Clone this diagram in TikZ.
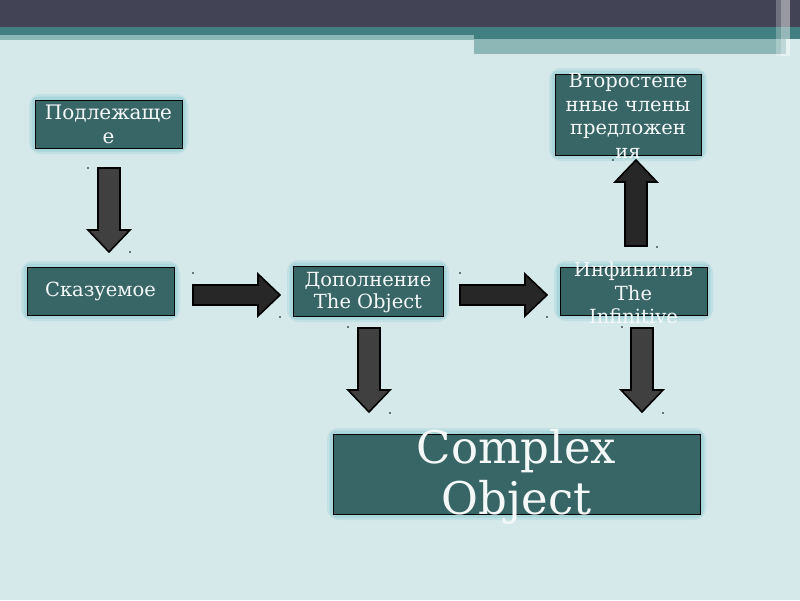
\documentclass[tikz,border=0pt]{standalone}
\usepackage{fontspec}
\setmainfont{DejaVu Serif}
\definecolor{bg}{HTML}{D5E8EA}
\definecolor{hdark}{HTML}{424455}
\definecolor{hteal}{HTML}{427F80}
\definecolor{hlight}{HTML}{8DB7B7}
\definecolor{boxfill}{HTML}{386566}
\definecolor{glowc}{HTML}{94CFD4}
\definecolor{arrfill}{HTML}{404040}
\definecolor{arrdark}{HTML}{272727}
\definecolor{txt}{HTML}{F4F8F8}
\tikzset{
  glowbox/.style={draw=glowc, line width=12pt, opacity=0.3, rounded corners=6pt},
  glowbox2/.style={draw=glowc, line width=7pt, opacity=0.55, rounded corners=3pt},
  boxrect/.style={fill=boxfill, draw=black, line width=0.9pt},
  boxtext/.style={text=txt, align=center, inner sep=0pt, font=\fontsize{19.5}{23.5}\selectfont},
  blockarr/.style={draw=black, line width=1.6pt, line join=miter},
  tinydot/.style={fill=black, circle, inner sep=0pt, minimum size=1.8pt}
}
\newcommand\glowrect[2]{%
  \draw[glowbox] #1 rectangle #2;
  \draw[glowbox2] #1 rectangle #2;
  \draw[boxrect] #1 rectangle #2;}
\begin{document}
\begin{tikzpicture}[x=1pt,y=-1pt]
\useasboundingbox (0,0) rectangle (800,600);
\fill[bg] (0,0) rectangle (800,600);
% header
\fill[hdark] (0,0) rectangle (800,27);
\fill[hteal] (0,27) rectangle (800,39);
\fill[hlight] (0,35) rectangle (474,40);
\fill[hlight] (474,39) rectangle (786,54);
\fill[white, opacity=0.25] (776,0) rectangle (781,56);
\fill[white, opacity=0.45] (781,0) rectangle (790,56);
% boxes
\glowrect{(35,100)}{(182,148)}
\node[boxtext, font=\fontsize{20}{24}\selectfont] (podl) at (108.5,124) {Подлежаще\\е};
\glowrect{(27,267)}{(174,315)}
\node[boxtext] (skaz) at (100.5,291) {Сказуемое};
\glowrect{(293,266)}{(443,316)}
\node[boxtext, font=\fontsize{19.5}{22}\selectfont] (dop) at (368,293) {Дополнение\\The Object};
\glowrect{(560,267)}{(707,315)}
\node[boxtext] (inf) at (633.5,293) {Инфинитив\\The\\Infinitive};
\glowrect{(555,74)}{(701,155)}
\node[boxtext] (vtor) at (628,116) {Второстепе\\нные члены\\предложен\\ия};
\glowrect{(333,434)}{(700,514)}
\node[boxtext, font=\fontsize{45}{51}\selectfont] (cobj) at (516.5,477) {Complex\\Object};
% block arrows
\draw[blockarr, fill=arrfill] (98,168) -- (120,168) -- (120,230) -- (130,230) -- (109,252) -- (88,230) -- (98,230) -- cycle;
\draw[blockarr, fill=arrdark] (193,285) -- (258,285) -- (258,274) -- (280,295) -- (258,316) -- (258,305) -- (193,305) -- cycle;
\draw[blockarr, fill=arrdark] (460,285) -- (525,285) -- (525,274) -- (547,295) -- (525,316) -- (525,305) -- (460,305) -- cycle;
\draw[blockarr, fill=arrdark] (625,246) -- (647,246) -- (647,182) -- (657,182) -- (636,160) -- (615,182) -- (625,182) -- cycle;
\draw[blockarr, fill=arrfill] (358,328) -- (380,328) -- (380,390) -- (390,390) -- (369,412) -- (348,390) -- (358,390) -- cycle;
\draw[blockarr, fill=arrfill] (631,328) -- (653,328) -- (653,390) -- (663,390) -- (642,412) -- (621,390) -- (631,390) -- cycle;
% tiny selection dots
\foreach \p [count=\i] in {(88,168),(130,252),(193,273),(280,317),(460,273),(547,317),(613,160),(657,247),(348,327),(390,413),(622,327),(663,413)}
  \node[tinydot] (d\i) at \p {};
\end{tikzpicture}
\end{document}
